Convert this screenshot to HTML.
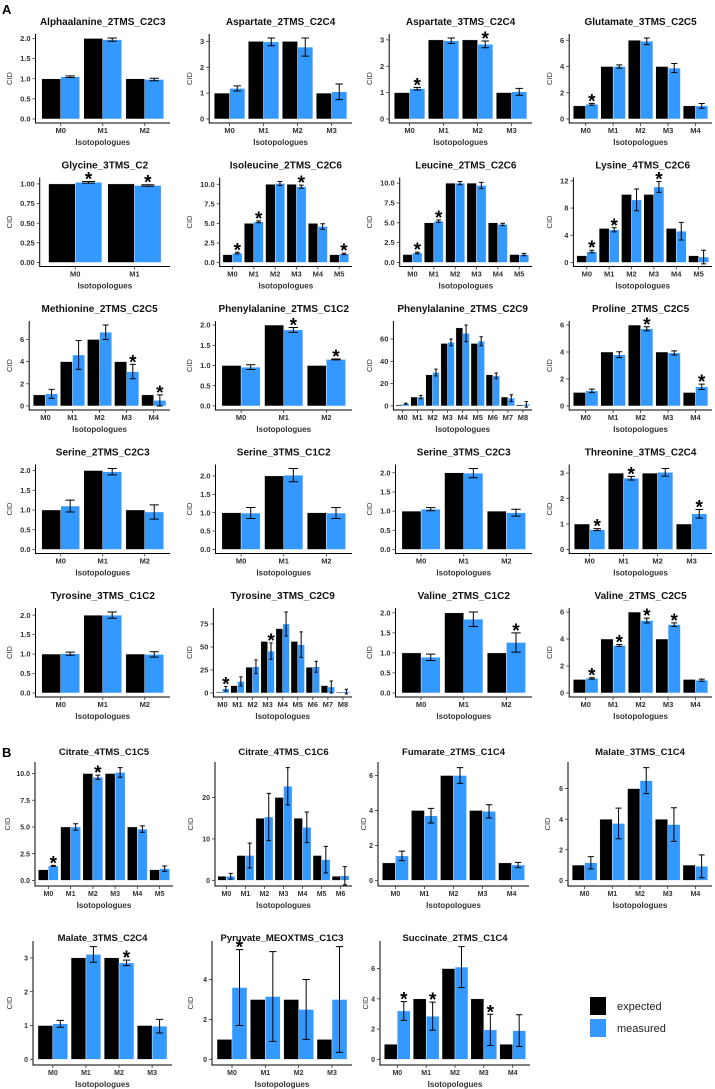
<!DOCTYPE html>
<html><head><meta charset="utf-8"><style>
html,body{margin:0;padding:0;background:#fff;}
svg{display:block;font-family:"Liberation Sans",Arial,sans-serif;}
</style></head><body>
<svg id="fig" width="715" height="1089" viewBox="0 0 715 1089" xmlns="http://www.w3.org/2000/svg">
<text x="2" y="14" font-size="13" font-weight="bold">A</text>
<text x="2" y="757" font-size="13" font-weight="bold">B</text>
<g>
<rect x="590" y="997" width="16" height="18" fill="#000"/>
<rect x="590" y="1019" width="16" height="18" fill="#3399ff"/>
<text x="617" y="1010" font-size="11" fill="#222">expected</text>
<text x="617" y="1032" font-size="11" fill="#222">measured</text>
</g>
</svg>
<script>
const panelNames=["Alphaalanine_2TMS_C2C3","Aspartate_2TMS_C2C4","Aspartate_3TMS_C2C4","Glutamate_3TMS_C2C5",
"Glycine_3TMS_C2","Isoleucine_2TMS_C2C6","Leucine_2TMS_C2C6","Lysine_4TMS_C2C6",
"Methionine_2TMS_C2C5","Phenylalanine_2TMS_C1C2","Phenylalanine_2TMS_C2C9","Proline_2TMS_C2C5",
"Serine_2TMS_C2C3","Serine_3TMS_C1C2","Serine_3TMS_C2C3","Threonine_3TMS_C2C4",
"Tyrosine_3TMS_C1C2","Tyrosine_3TMS_C2C9","Valine_2TMS_C1C2","Valine_2TMS_C2C5",
"Citrate_4TMS_C1C5","Citrate_4TMS_C1C6","Fumarate_2TMS_C1C4","Malate_3TMS_C1C4",
"Malate_3TMS_C2C4","Pyruvate_MEOXTMS_C1C3","Succinate_2TMS_C1C4"];
const expectedValues=[[1,2,1],[1,3,3,1],[1,3,3,1],[1,4,6,4,1],
[1,1],[1,5,10,10,5,1],[1,5,10,10,5,1],[1,5,10,10,5,1],
[1,4,6,4,1],[1,2,1],[1,8,28,56,70,56,28,8,1],[1,4,6,4,1],
[1,2,1],[1,2,1],[1,2,1],[1,3,3,1],
[1,2,1],[1,8,28,56,70,56,28,8,1],[1,2,1],[1,4,6,4,1],
[1,5,10,10,5,1],[1,6,15,20,15,6,1],[1,4,6,4,1],[1,4,6,4,1],
[1,3,3,1],[1,3,3,1],[1,4,6,4,1]];
const measuredValues=[[1.05,1.97,0.98],[1.18,2.98,2.78,1.05],[1.15,2.97,2.83,1.03],[1.12,4.0,5.92,3.88,1.0],
[1.02,0.98],[1.2,5.2,10.1,9.7,4.6,1.1],[1.2,5.2,10.0,9.7,4.8,1.0],[1.6,4.8,9.2,11.1,4.6,0.8],
[1.1,4.6,6.65,3.1,0.5],[0.96,1.88,1.15],[2,8,30,57,65,58,27,7,1.5],[1.12,3.8,5.72,3.93,1.42],
[1.1,1.97,0.95],[0.99,2.02,0.99],[1.05,1.99,0.96],[0.78,2.8,3.03,1.4],
[1.01,2.0,0.99],[4.5,12.5,28.5,45.5,75,52.5,28.5,6.5,1.5],[0.89,1.84,1.26],[1.08,3.52,5.37,5.07,0.95],
[1.35,5.0,9.65,10.1,4.8,1.1],[1.0,6.0,15.3,22.7,12.8,5.0,1.1],[1.4,3.7,6.0,3.95,0.88],[1.15,3.72,6.52,3.65,0.92],
[1.05,3.1,2.85,0.98],[3.6,3.15,2.5,3.0],[3.2,2.85,6.1,1.95,1.9]];
const errorValues=[[0.02,0.04,0.03],[0.1,0.15,0.35,0.3],[0.05,0.1,0.13,0.13],[0.07,0.12,0.25,0.35,0.18],
[0.01,0.01],[0.1,0.12,0.25,0.2,0.35,0.1],[0.1,0.15,0.2,0.4,0.15,0.15],[0.2,0.3,1.6,0.8,1.3,1.0],
[0.4,1.3,0.65,0.65,0.5],[0.06,0.06,0.01],[0.5,1.5,3,3,7.5,4,2.5,3,2.5],[0.13,0.22,0.15,0.15,0.2],
[0.15,0.08,0.18],[0.15,0.18,0.15],[0.04,0.12,0.09],[0.04,0.07,0.15,0.17],
[0.04,0.08,0.07],[2.5,5,7.5,9,13,14,6,6.5,2.5],[0.08,0.18,0.24],[0.05,0.07,0.18,0.13,0.08],
[0.05,0.3,0.2,0.45,0.3,0.25],[0.7,3,5.7,4.5,3.7,3.2,2.2],[0.27,0.42,0.45,0.38,0.15],[0.4,1.0,0.85,1.1,0.75],
[0.1,0.23,0.08,0.2],[1.9,2.25,1.5,2.65],[0.62,0.93,1.35,1.03,1.05]];
const starIndices=[[],[],[0,2],[0],
[0,1],[0,1,3,5],[0,1],[0,1,3],
[3,4],[1,2],[],[2,4],
[],[],[],[0,1,3],
[],[0,3],[2],[0,1,2,3],
[0,2],[],[],[],
[2],[0],[0,1,3]];
const tickLabels=[["0.0","0.5","1.0","1.5","2.0"],["0","1","2","3"],["0","1","2","3"],["0","2","4","6"],
["0.00","0.25","0.50","0.75","1.00"],["0.0","2.5","5.0","7.5","10.0"],["0.0","2.5","5.0","7.5","10.0"],["0","4","8","12"],
["0","2","4","6"],["0.0","0.5","1.0","1.5","2.0"],["0","20","40","60"],["0","2","4","6"],
["0.0","0.5","1.0","1.5","2.0"],["0.0","0.5","1.0","1.5","2.0"],["0.0","0.5","1.0","1.5","2.0"],["0","1","2","3"],
["0.0","0.5","1.0","1.5","2.0"],["0","25","50","75"],["0.0","0.5","1.0","1.5","2.0"],["0","2","4","6"],
["0.0","2.5","5.0","7.5","10.0"],["0","10","20"],["0","2","4","6"],["0","2","4","6"],
["0","1","2","3"],["0","2","4"],["0","2","4","6"]];

const NS="http://www.w3.org/2000/svg";
const svg=document.getElementById('fig');
function el(tag,attrs,parent){const e=document.createElementNS(NS,tag);for(const k in attrs)e.setAttribute(k,attrs[k]);(parent||svg).appendChild(e);return e;}
function labelW(s){let w=0;for(const c of s)w+=(c==='.')?2.1:4.2;return w;}
const colX=[0,180,360,540];
const bAxis=[35,215,378,568,33,212,380];
const bRight=[173,352,529,712,172,352,530];
const bCid=[10,193,366,550,12,193,368];

function layout(i){
  if(i<20){
    const row=Math.floor(i/4),col=i%4,X=colX[col],t=21+143.5*row;
    const maxW=Math.max(...tickLabels[i].map(labelW));
    return {cid:X+12,title:t,top:t+13,bot:t+102,ax:X+19+maxW+6,right:X+(col===0?170:172),fs:7.5,tfs:10};
  }
  const j=i-20;
  const t=j<4?751:937;
  return {cid:bCid[j],title:t,top:j<4?t+11:t+4,bot:j<4?t+135:t+128,ax:bAxis[j],right:bRight[j],fs:7,tfs:9.5};
}

for(let i=0;i<panelNames.length;i++){
  const L=layout(i);
  const ex=expectedValues[i],me=measuredValues[i],er=errorValues[i];
  const n=ex.length;
  let dmax=0;for(let k=0;k<n;k++){dmax=Math.max(dmax,ex[k],me[k]+er[k]);}
  const lo=-0.05*dmax,hi=1.05*dmax;
  const y=v=>L.bot-(v-lo)/(hi-lo)*(L.bot-L.top);
  const x=u=>L.ax+(u-0.4)/(n+0.2)*(L.right-L.ax);
  const g=el('g',{});
  
  
  const tt=el('text',{x:(L.ax+L.right)/2,y:L.title+4,'font-size':L.tfs,'font-weight':'bold','text-anchor':'middle',fill:'#111'},g);
  tt.textContent=panelNames[i];
  
  
  for(let k=0;k<n;k++){
    const c=k+1;
    const b1=el('rect',{x:x(c-0.45),y:y(ex[k]),width:x(c)-x(c-0.45),height:y(0)-y(ex[k]),fill:'#000',stroke:'#fff','stroke-width':0.4},g);
    
    
    const b2=el('rect',{x:x(c),y:y(me[k]),width:x(c+0.45)-x(c),height:y(0)-y(me[k]),fill:'#3399ff',stroke:'#fff','stroke-width':0.4},g);
    
    
    const cx=x(c+0.225),hw=x(0.11)-x(0);
    const yt=y(me[k]+er[k]),yb=y(Math.max(me[k]-er[k],lo));
    const eb=el('path',{d:`M${cx-hw},${yt}H${cx+hw}M${cx},${yt}V${yb}M${cx-hw},${yb}H${cx+hw}`,stroke:'#000','stroke-width':1,fill:'none'},g);
    
    
    const xl=el('text',{x:x(c),y:L.bot+10,'font-size':L.fs,'font-weight':'bold','text-anchor':'middle',fill:'#333'},g);
    xl.textContent='M'+k;
    
    
  }
  for(const s of starIndices[i]){
    const st=el('text',{x:x(s+1.225),y:y(me[s]+er[s])+4,'font-size':19,'font-weight':'bold','text-anchor':'middle',fill:'#000'},g);
    st.textContent='*';
    
    
  }
  const axes=el('path',{d:`M${L.ax},${L.top}V${L.bot}H${L.right}`,stroke:'#000','stroke-width':1,fill:'none'},g);
  
  
  for(const lab of tickLabels[i]){
    const v=parseFloat(lab),yy=y(v);
    el('path',{d:`M${L.ax-3},${yy}H${L.ax}`,stroke:'#333','stroke-width':0.8},g);
    const tl=el('text',{x:L.ax-5,y:yy+2.6,'font-size':L.fs,'font-weight':'bold','text-anchor':'end',fill:'#333'},g);
    tl.textContent=lab;
    
    
  }
  for(let k=0;k<n;k++){el('path',{d:`M${x(k+1)},${L.bot}V${L.bot+3}`,stroke:'#333','stroke-width':0.8},g);}
  const yl=el('text',{x:0,y:0,'font-size':7.5,'text-anchor':'middle',fill:'#333'},g);
  yl.textContent='CID';
  
  
  yl.setAttribute('transform',`translate(${L.cid},${(L.top+L.bot)/2}) rotate(-90)`);
  const xt=el('text',{x:(L.ax+L.right)/2,y:L.bot+22,'font-size':8,'font-weight':'bold','text-anchor':'middle',fill:'#333'},g);
  xt.textContent='Isotopologues';
  
  
}
</script>
</body></html>
